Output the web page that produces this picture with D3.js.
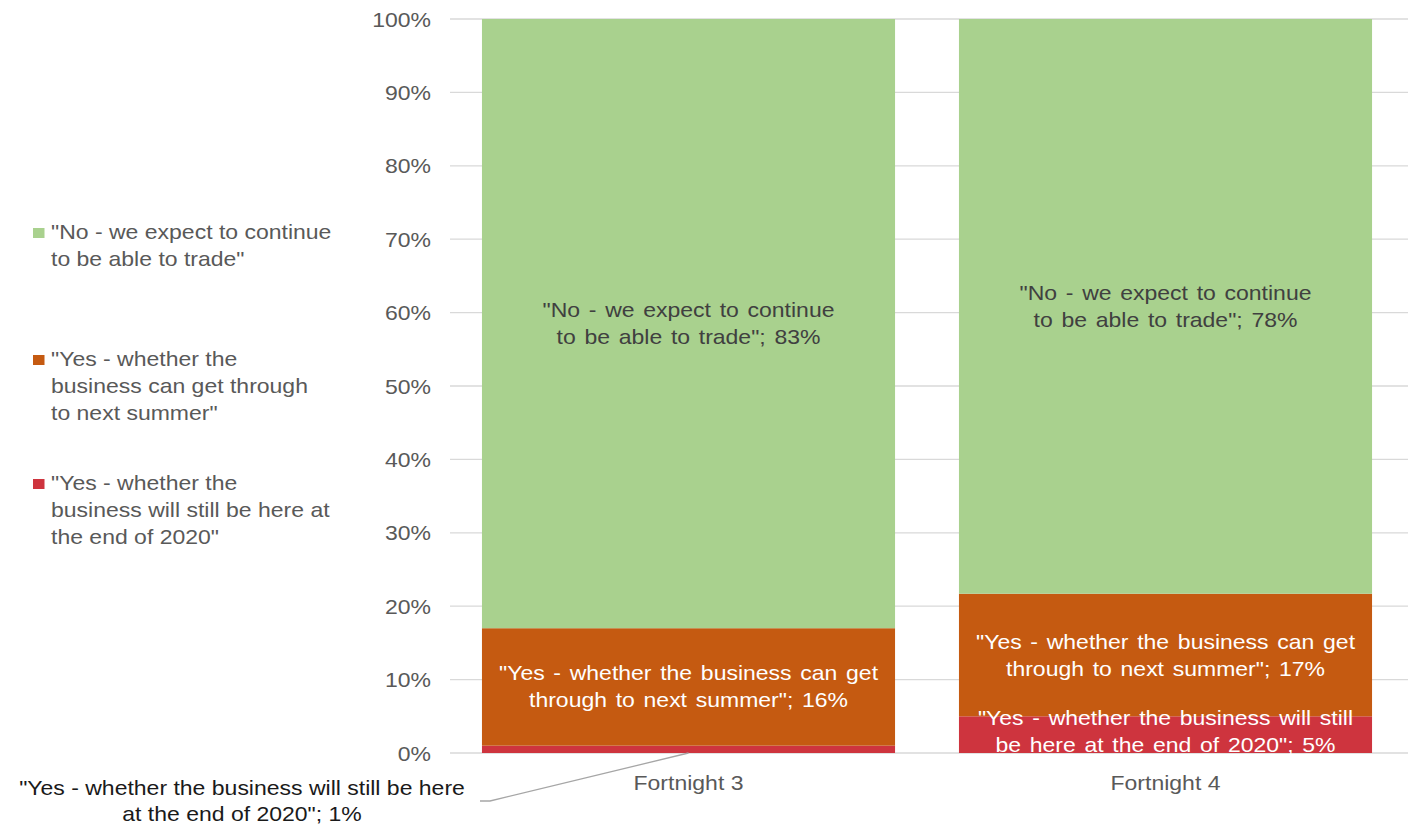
<!DOCTYPE html>
<html><head><meta charset="utf-8">
<script src="https://cdn.jsdelivr.net/npm/d3@7"></script>
<style>body{margin:0;background:#fff}svg{display:block}text{font-family:"Liberation Sans",Arial,sans-serif}</style>
</head><body><svg id="c" width="1412" height="827"></svg>
<script>
const categories = ["Fortnight 3", "Fortnight 4"];
const seriesKeys = ["end2020", "summer", "trade"];
const seriesNames = {
  trade: ['"No - we expect to continue', 'to be able to trade"'],
  summer: ['"Yes - whether the', 'business can get through', 'to next summer"'],
  end2020: ['"Yes - whether the', 'business will still be here at', 'the end of 2020"']
};
const valuesEnd2020 = [0.010, 0.050];
const valuesSummer = [0.160, 0.167];
const valuesTrade = [0.830, 0.783];
const labelPct = { end2020: ["1%", "5%"], summer: ["16%", "17%"], trade: ["83%", "78%"] };
const labelLines = {
  trade: ['"No - we expect to continue', 'to be able to trade"; '],
  summer: ['"Yes - whether the business can get', 'through to next summer"; '],
  end2020: ['"Yes - whether the business will still', 'be here at the end of 2020"; ']
};
const calloutLines = ['"Yes - whether the business will still be here', 'at the end of 2020"; '];
const yTicks = [0, .1, .2, .3, .4, .5, .6, .7, .8, .9, 1];

const colors = { trade: "#A9D18E", summer: "#C55A11", end2020: "#CE343E" };
const SX = 1.15, FS = 20;

const data = categories.map((c, i) => ({ cat: c, end2020: valuesEnd2020[i], summer: valuesSummer[i], trade: valuesTrade[i] }));
const svg = d3.select("#c");
const y = d3.scaleLinear().domain([0, 1]).range([753, 19]);
const x = d3.scaleBand().domain(categories).range([450, 1404]).paddingInner(0.134).paddingOuter(0.067);

function txt(g, xx, yy, lines, opts) {
  const t = g.append("text")
    .attr("transform", `translate(${xx},${yy}) scale(${SX},1)`)
    .attr("font-size", FS).attr("fill", opts.fill).attr("text-anchor", opts.anchor || "start")
    .attr("word-spacing", opts.ws || 0);
  lines.forEach((l, k) => t.append("tspan").attr("x", 0).attr("y", k * (opts.lh || 27)).text(l));
  return t;
}

// grid
svg.append("g").selectAll("line").data(yTicks).join("line")
  .attr("x1", 450).attr("x2", 1408).attr("y1", d => y(d)).attr("y2", d => y(d))
  .attr("stroke", "#D9D9D9").attr("stroke-width", 1.3);

// y tick labels
const fmt = d3.format(".0%");
yTicks.forEach(t => txt(svg, 431, y(t) + 7.5, [fmt(t)], { fill: "#595959", anchor: "end" }));

// bars
const stacked = d3.stack().keys(seriesKeys)(data);
const bg = svg.append("g");
stacked.forEach(s => {
  bg.selectAll(null).data(s).join("rect")
    .attr("x", d => x(d.data.cat)).attr("width", x.bandwidth())
    .attr("y", d => y(d[1])).attr("height", d => y(d[0]) - y(d[1]))
    .attr("fill", colors[s.key]);
});

// data labels
const lg = svg.append("g");
stacked.forEach(s => {
  s.forEach((d, i) => {
    if (s.key === "end2020" && i === 0) return; // callout instead
    const cx = x(d.data.cat) + x.bandwidth() / 2;
    let cy = (y(d[0]) + y(d[1])) / 2;
    const lines = labelLines[s.key].slice();
    lines[lines.length - 1] += labelPct[s.key][i];
    const h = 27 * (lines.length - 1);
    const bottom = cy + h / 2 + 7;
    if (bottom > y(0) - 1) cy -= bottom - (y(0) - 1);
    txt(lg, cx, cy - h / 2 + 7, lines, { fill: s.key === "trade" ? "#404040" : "#FFFFFF", anchor: "middle", ws: 2 });
  });
});

// callout for Fortnight 3 red
const px = x(categories[0]) + x.bandwidth() / 2;
svg.append("path")
  .attr("d", `M480,801 L490,801 L${px},${y(0)}`)
  .attr("fill", "none").attr("stroke", "#A6A6A6").attr("stroke-width", 1.3);
const cl = calloutLines.slice(); cl[1] += labelPct.end2020[0];
txt(svg, 242, 795, cl, { fill: "#1a1a1a", anchor: "middle", lh: 26 });

// x labels
categories.forEach(c => txt(svg, x(c) + x.bandwidth() / 2, 790, [c], { fill: "#595959", anchor: "middle" }));

// legend
const legendY = [239, 366, 490];
["trade", "summer", "end2020"].forEach((k, i) => {
  svg.append("rect").attr("x", 33).attr("y", legendY[i] - 11).attr("width", 11.5).attr("height", 10).attr("fill", colors[k]);
  txt(svg, 51, legendY[i], seriesNames[k], { fill: "#595959", lh: 26.8 });
});
</script></body></html>
